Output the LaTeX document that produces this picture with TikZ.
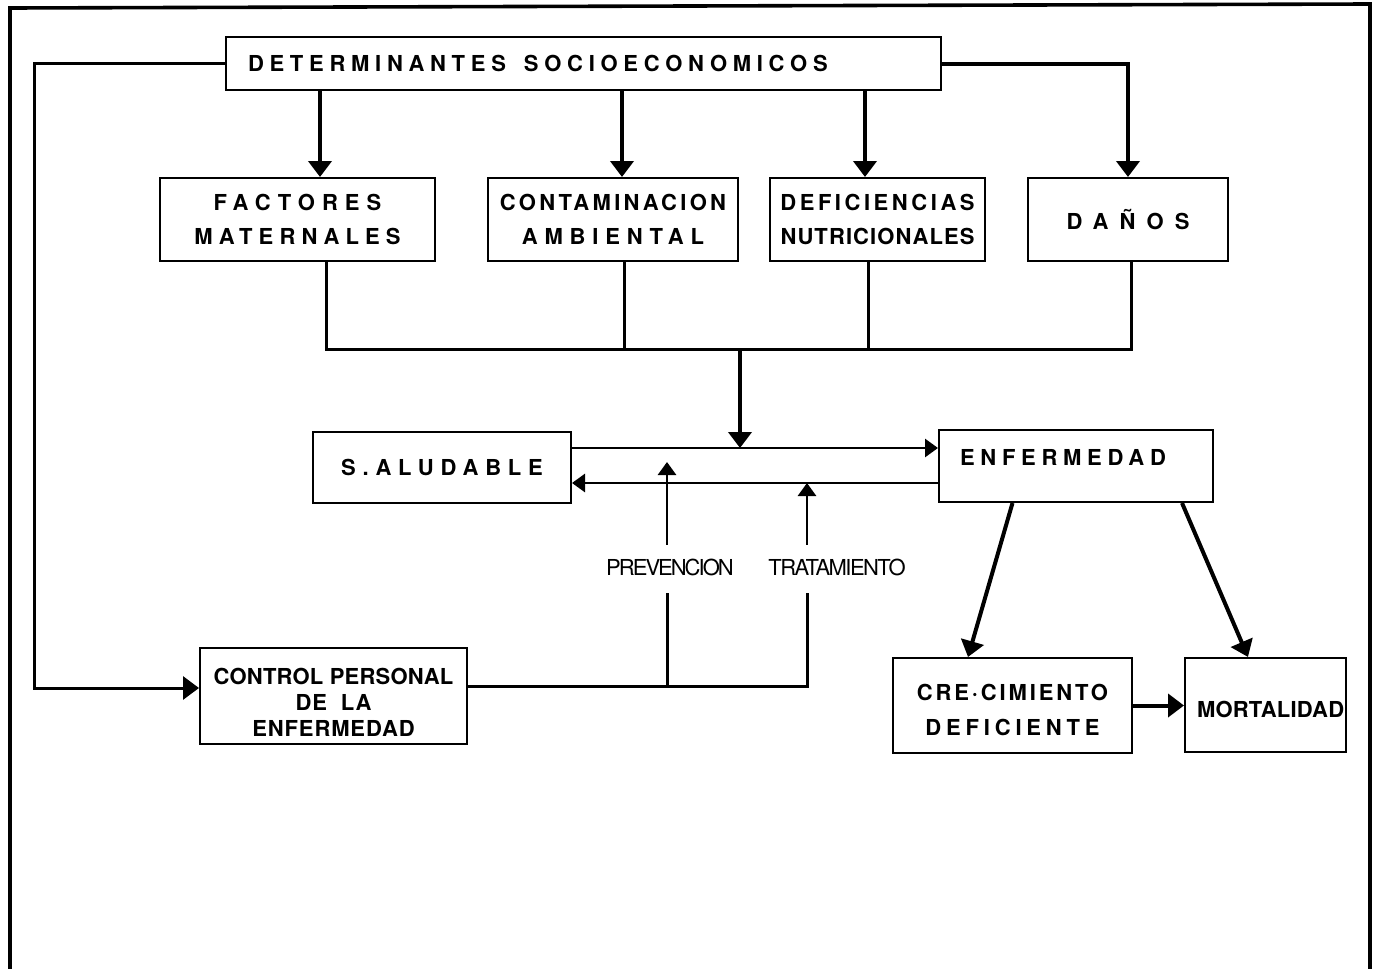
\documentclass[tikz,border=0pt]{standalone}
\usepackage{fontspec}
\setmainfont{TeX Gyre Heros}
\usetikzlibrary{arrows.meta}

\newcommand{\ls}[2]{{\addfontfeatures{LetterSpace=#1}#2}}

\begin{document}
\begin{tikzpicture}[x=0.5pt, y=-0.5pt,
	every node/.style={font=\fontsize{11}{13}\selectfont\bfseries},
	box/.style={shape=rectangle, draw=black, line width=1pt, inner sep=0pt, align=center},
	twoline/.style={font=\fontsize{11}{17}\selectfont\bfseries},
	lab/.style={font=\fontsize{11}{13}\selectfont, inner sep=0pt, text height=15pt, text depth=9pt},
	arr/.style={-{Triangle[width=11.5pt,length=8pt]}, line width=2pt},
	sarr/.style={-{Triangle[width=9pt,length=6.5pt]}, line width=1.4pt},
	wire/.style={line width=1.5pt}]
			\useasboundingbox (0,0) rectangle (1378,969);
			%Frame:
			\draw[line width=1.8pt] (10,969) -- (10,8) -- (1370,4) -- (1370,969);
			%Top row:
			\path
				(583.5,63.5) node[box, minimum width=357.5pt, minimum height=26.5pt, text width=335.5pt, align=left] (det) {\ls{26}{DETERMINANTES\hspace{9pt}SOCIOECONOMICOS}}
				(297.5,219.5) node[box, twoline, minimum width=137.5pt, minimum height=41.5pt] (fac) {\ls{32}{FACTORES}\\\ls{28}{MATERNALES}}
				(613,219.5) node[box, twoline, minimum width=125pt, minimum height=41.5pt] (con) {\ls{15}{CONTAMINACION}\\\ls{31}{AMBIENTAL}}
				(877.5,219.5) node[box, twoline, minimum width=107.5pt, minimum height=41.5pt] (def) {\ls{16}{DEFICIENCIAS}\\\ls{5}{NUTRICIONALES}}
				(1128,219.5) node[box, minimum width=100pt, minimum height=41.5pt] (dan) {\ls{50}{DAÑOS}};
			%Middle row:
			\path
				(442,467.5) node[box, minimum width=129pt, minimum height=35.5pt] (sal) {\ls{31}{S.ALUDABLE}}
				(1076,466) node[box, minimum width=137pt, minimum height=36pt, text width=116pt, align=left, text depth=9pt] (enf) {\ls{26}{ENFERMEDAD}}
				(670,569) node[lab] (prev) {\ls{-9}{PREVENCION}}
				(837,569) node[lab] (trat) {\ls{-7}{TRATAMIENTO}};
			%Bottom row:
			\path
				(333.5,696) node[box, minimum width=133.5pt, minimum height=48pt] (ctl) {\rule{0pt}{14pt}\ls{1}{CONTROL PERSONAL}\\\ls{4}{DE\hspace{7pt}LA}\hspace*{18pt}\\\ls{4}{ENFERMEDAD}}
				(1012.5,705.5) node[box, font=\fontsize{11}{17.5}\selectfont\bfseries, minimum width=119.5pt, minimum height=47.5pt] (cre) {\rule{0pt}{13pt}\ls{13}{CRE·CIMIENTO}\\\ls{22}{DEFICIENTE}}
				(1265.5,705) node[box, minimum width=80.5pt, minimum height=47pt, text width=68.5pt, align=left, text height=12pt, text depth=0pt] (mor) {\ls{1}{MORTALIDAD}};
			\coordinate (bus) at (740,349);
			\coordinate (jn) at (740,448);
			\coordinate (tee) at (667,686);
			%Connectors:
			\draw[arr] (320,0 |- det.south) -- (320,0 |- fac.north);
			\draw[arr] (622,0 |- det.south) -- (622,0 |- con.north);
			\draw[arr] (865,0 |- det.south) -- (865,0 |- def.north);
			\draw[arr] (det.east) -| (dan.north);
			\draw[arr, line width=1.5pt] (det.west) -| (34,688) -- (ctl.west |- 0,688);
			\draw[wire] (326,0 |- fac.south) |- (bus) -| (1131,0 |- dan.south);
			\draw[wire] (624,0 |- con.south) -- (624,0 |- bus);
			\draw[wire] (868,0 |- def.south) -- (868,0 |- bus);
			\draw[arr] (bus) -- (jn);
			\draw[sarr] (sal.east |- jn) -- (enf.west |- jn);
			\draw[sarr] (enf.west |- 0,483) -- (sal.east |- 0,483);
			\draw[wire] (ctl.east |- tee) -| (807,0 |- trat.south);
			\draw[wire] (tee) -- (tee |- prev.south);
			\draw[sarr] (667,0 |- prev.north) -- (667,462);
			\draw[sarr] (807,0 |- trat.north) -- (807,483);
			\draw[arr] (enf.south -| cre.north) -- (968,0 |- cre.north);
			\draw[arr] (1182,0 |- enf.south) -- (1248,0 |- mor.north);
			\draw[arr] (cre.east) -- (cre.east -| mor.west);
\end{tikzpicture}
\end{document}
